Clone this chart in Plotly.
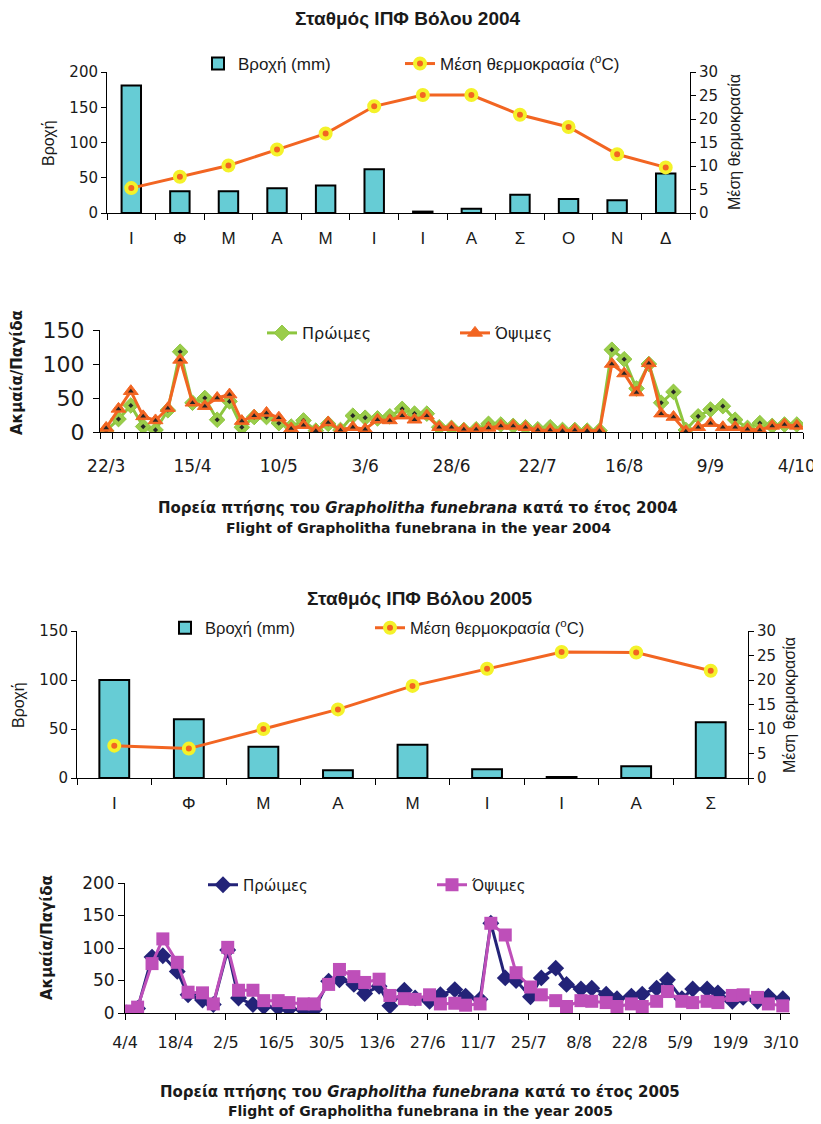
import plotly.graph_objects as go

W, H = 821, 1124
OFF = 8  # page body margin of the html page

# ---------------- DATA ----------------
months_2004 = ["Ι", "Φ", "Μ", "Α", "Μ", "Ι", "Ι", "Α", "Σ", "Ο", "Ν", "Δ"]
rain_2004 = [181, 31, 31, 35, 39, 62, 2, 6, 26, 20, 18, 56]
temp_2004 = [5.3, 7.7, 10.1, 13.5, 16.9, 22.7, 25.1, 25.1, 20.9, 18.3, 12.5, 9.7]

months_2005 = ["Ι", "Φ", "Μ", "Α", "Μ", "Ι", "Ι", "Α", "Σ"]
rain_2005 = [100, 60, 32, 8, 34, 9, 1, 12, 57]
temp_2005 = [6.6, 6.0, 10.0, 14.0, 18.8, 22.3, 25.7, 25.6, 21.9]

# 2004 flight: 57 samples (twice weekly, 22/3 - 4/10), category axis
flight2004_ticklabels = ["22/3", "15/4", "10/5", "3/6", "28/6", "22/7", "16/8", "9/9", "4/10"]
early_2004 = [2, 19, 39, 8, 3, 32, 118, 43, 50, 18, 45, 7, 22, 22, 13, 8, 17, 2, 12, 3,
              24, 21, 20, 23, 34, 27, 27, 7, 6, 3, 4, 12, 11, 9, 7, 4, 7, 3, 3, 2,
              2, 121, 107, 64, 100, 43, 59, 3, 23, 33, 38, 18, 6, 13, 9, 11, 11]
late_2004 = [6, 34, 60, 23, 17, 35, 106, 43, 38, 50, 55, 16, 24, 28, 21, 5, 10, 2, 14, 3,
             7, 4, 18, 17, 24, 18, 24, 7, 7, 4, 4, 6, 9, 9, 7, 3, 3, 2, 3, 2,
             2, 100, 86, 58, 101, 27, 22, 1, 7, 13, 7, 7, 4, 3, 9, 11, 9]

# 2005 flight: sampling dates
dates_2005 = [
    "2005-04-04", "2005-04-07", "2005-04-11", "2005-04-14", "2005-04-18", "2005-04-21",
    "2005-04-25", "2005-04-28", "2005-05-02", "2005-05-05", "2005-05-09", "2005-05-12",
    "2005-05-16", "2005-05-19", "2005-05-23", "2005-05-26", "2005-05-30", "2005-06-02",
    "2005-06-06", "2005-06-09", "2005-06-13", "2005-06-16", "2005-06-20", "2005-06-23",
    "2005-06-27", "2005-06-30", "2005-07-04", "2005-07-07", "2005-07-11", "2005-07-14",
    "2005-07-18", "2005-07-21", "2005-07-25", "2005-07-28", "2005-08-01", "2005-08-04",
    "2005-08-08", "2005-08-11", "2005-08-15", "2005-08-18", "2005-08-22", "2005-08-25",
    "2005-08-29", "2005-09-01", "2005-09-05", "2005-09-08", "2005-09-12", "2005-09-15",
    "2005-09-19", "2005-09-22", "2005-09-26", "2005-09-29", "2005-10-03"]
early_2005 = [0, 7, 86, 88, 64, 28, 20, 13, 97, 23, 13, 10, 8, 6, 5, 5, 49, 51, 44, 30,
              41, 11, 35, 23, 18, 28, 36, 26, 21, 138, 54, 50, 25, 54, 69, 44, 37, 38, 29, 22,
              26, 29, 38, 51, 22, 37, 37, 31, 18, 24, 18, 26, 22]
late_2005 = [3, 9, 76, 114, 78, 32, 31, 14, 101, 35, 35, 19, 19, 16, 14, 14, 44, 67, 56, 47,
             52, 27, 22, 21, 28, 14, 15, 12, 14, 138, 120, 62, 40, 28, 19, 10, 19, 18, 16, 10,
             14, 10, 18, 33, 18, 16, 18, 16, 27, 28, 24, 14, 11]
flight2005_tickvals = ["2005-04-04", "2005-04-18", "2005-05-02", "2005-05-16", "2005-05-30",
                       "2005-06-13", "2005-06-27", "2005-07-11", "2005-07-25", "2005-08-08",
                       "2005-08-22", "2005-09-05", "2005-09-19", "2005-10-03"]
flight2005_ticklabels = ["4/4", "18/4", "2/5", "16/5", "30/5", "13/6", "27/6", "11/7",
                         "25/7", "8/8", "22/8", "5/9", "19/9", "3/10"]

# ---------------- STYLE ----------------
BAR_C = "#66CCD5"
TEMP_C = "#F26522"
RING_C = "#F4F22A"
GREEN = "#8DC63F"
ORANGE = "#F26522"
NAVY = "#232378"
PINK = "#BE4FB9"
DOT = "#262626"
FC = "Liberation Sans, Arial, sans-serif"
FD = "DejaVu Sans, sans-serif"
TXT = "#1a1a1a"


def fx(px):
    return (px - OFF) / W


def fy(py):
    return 1 - (py - OFF) / H


fig = go.Figure()

# Chart 1: climate 2004
fig.add_trace(go.Bar(x=list(range(len(rain_2004))), y=rain_2004, xaxis="x", yaxis="y",
                     width=0.4, name="Βροχή (mm)", legend="legend",
                     marker=dict(color=BAR_C, line=dict(color="black", width=2))))
fig.add_trace(go.Scatter(x=list(range(len(temp_2004))), y=temp_2004, xaxis="x", yaxis="y2",
                         mode="lines+markers", name="Μέση θερμοκρασία (<sup>o</sup>C)", legend="legend5",
                         line=dict(color=TEMP_C, width=3),
                         marker=dict(symbol="circle", size=10, color=TEMP_C,
                                     line=dict(color=RING_C, width=4))))

# Chart 2: flight 2004
idx04 = list(range(len(early_2004)))
fig.add_trace(go.Scatter(x=idx04, y=early_2004, xaxis="x2", yaxis="y3", mode="lines+markers",
                         name="Πρώιμες", legend="legend2", line=dict(color=GREEN, width=3),
                         marker=dict(symbol="diamond", size=12, color="#9ACD4A",
                                     line=dict(color=GREEN, width=1))))
fig.add_trace(go.Scatter(x=idx04, y=early_2004, xaxis="x2", yaxis="y3", mode="markers",
                         showlegend=False, marker=dict(symbol="diamond", size=4, color=DOT)))
fig.add_trace(go.Scatter(x=idx04, y=late_2004, xaxis="x2", yaxis="y3", mode="lines+markers",
                         name="Όψιμες", legend="legend6", line=dict(color=ORANGE, width=3),
                         marker=dict(symbol="triangle-up", size=13, color=ORANGE,
                                     line=dict(color=ORANGE, width=1))))
fig.add_trace(go.Scatter(x=idx04, y=late_2004, xaxis="x2", yaxis="y3", mode="markers",
                         showlegend=False, marker=dict(symbol="triangle-up", size=5, color=DOT)))

# Chart 3: climate 2005
fig.add_trace(go.Bar(x=list(range(len(rain_2005))), y=rain_2005, xaxis="x3", yaxis="y4",
                     width=0.4, name="Βροχή (mm)", legend="legend3",
                     marker=dict(color=BAR_C, line=dict(color="black", width=2))))
fig.add_trace(go.Scatter(x=list(range(len(temp_2005))), y=temp_2005, xaxis="x3", yaxis="y5",
                         mode="lines+markers", name="Μέση θερμοκρασία (<sup>o</sup>C)", legend="legend7",
                         line=dict(color=TEMP_C, width=3),
                         marker=dict(symbol="circle", size=10, color=TEMP_C,
                                     line=dict(color=RING_C, width=4))))

# Chart 4: flight 2005 (points at mid-day)
xd05 = [d + " 12:00" for d in dates_2005]
fig.add_trace(go.Scatter(x=xd05, y=early_2005, xaxis="x4", yaxis="y6", mode="lines+markers",
                         name="Πρώιμες", legend="legend4", line=dict(color=NAVY, width=3),
                         marker=dict(symbol="diamond", size=13, color=NAVY)))
fig.add_trace(go.Scatter(x=xd05, y=late_2005, xaxis="x4", yaxis="y6", mode="lines+markers",
                         name="Όψιμες", legend="legend8", line=dict(color=PINK, width=3),
                         marker=dict(symbol="square", size=13, color=PINK)))

axis_common = dict(showline=True, linecolor="black", linewidth=1, showgrid=False,
                   zeroline=False, tickcolor="black", fixedrange=True, automargin=False)


def leg(px, py, size, family):
    return dict(x=fx(px), y=fy(py), xanchor="left", yanchor="middle", orientation="h",
                bgcolor="rgba(0,0,0,0)", font=dict(family=family, size=size, color=TXT))


layout = dict(
    template="none",
    width=W, height=H, margin=dict(l=0, r=0, t=0, b=0, pad=0, autoexpand=False),
    paper_bgcolor="white", plot_bgcolor="white", showlegend=True,
    font=dict(family=FC, color=TXT),
    # chart 1
    xaxis=dict(domain=[fx(107), fx(690)], anchor="y", range=[-0.5, 11.5],
               tickmode="array", tickvals=list(range(12)), ticktext=months_2004,
               ticks="outside", ticklen=0, ticklabelstandoff=10,
               minor=dict(tickmode="array", tickvals=[i - 0.5 for i in range(13)],
                          ticks="outside", ticklen=6, tickcolor="black"),
               tickfont=dict(family=FC, size=17, color=TXT), **axis_common),
    yaxis=dict(domain=[fy(213), fy(72)], anchor="x", range=[0, 200],
               tickvals=[0, 50, 100, 150, 200], ticks="outside", ticklen=5,
               tickfont=dict(family=FD, size=15, color=TXT), **axis_common),
    yaxis2=dict(overlaying="y", side="right", anchor="x", range=[0, 30],
                tickvals=[0, 5, 10, 15, 20, 25, 30], ticks="outside", ticklen=5,
                tickfont=dict(family=FD, size=15, color=TXT), **axis_common),
    # chart 2
    xaxis2=dict(domain=[fx(100), fx(803)], anchor="y3", range=[-0.5, 56.5],
                tickmode="array", tickvals=list(range(0, 57, 7)), ticktext=flight2004_ticklabels,
                ticks="outside", ticklen=0, ticklabelstandoff=19,
                minor=dict(tickmode="array", tickvals=[i - 0.5 for i in range(58)],
                           ticks="outside", ticklen=6, tickcolor="black"),
                tickfont=dict(family=FD, size=17, color=TXT), **axis_common),
    yaxis3=dict(domain=[fy(432), fy(330)], anchor="x2", range=[0, 150],
                tickvals=[0, 50, 100, 150], ticks="outside", ticklen=6, ticklabelstandoff=4,
                tickfont=dict(family=FD, size=22, color=TXT), **axis_common),
    # chart 3
    xaxis3=dict(domain=[fx(77), fx(748)], anchor="y4", range=[-0.5, 8.5],
                tickmode="array", tickvals=list(range(9)), ticktext=months_2005,
                ticks="outside", ticklen=0, ticklabelstandoff=10,
                minor=dict(tickmode="array", tickvals=[i - 0.5 for i in range(10)],
                           ticks="outside", ticklen=6, tickcolor="black"),
                tickfont=dict(family=FC, size=17, color=TXT), **axis_common),
    yaxis4=dict(domain=[fy(778), fy(631)], anchor="x3", range=[0, 150],
                tickvals=[0, 50, 100, 150], ticks="outside", ticklen=5,
                tickfont=dict(family=FD, size=15, color=TXT), **axis_common),
    yaxis5=dict(overlaying="y4", side="right", anchor="x3", range=[0, 30],
                tickvals=[0, 5, 10, 15, 20, 25, 30], ticks="outside", ticklen=5,
                tickfont=dict(family=FD, size=15, color=TXT), **axis_common),
    # chart 4
    xaxis4=dict(domain=[fx(125), fx(790)], anchor="y6", type="date",
                range=["2005-04-04 00:00", "2005-10-05 12:00"],
                tickmode="array", tickvals=flight2005_tickvals, ticktext=flight2005_ticklabels,
                ticks="outside", ticklen=6, ticklabelstandoff=9,
                tickfont=dict(family=FD, size=16, color=TXT), **axis_common),
    yaxis6=dict(domain=[fy(1013), fy(883)], anchor="x4", range=[0, 200],
                tickvals=[0, 50, 100, 150, 200], ticks="outside", ticklen=6,
                tickfont=dict(family=FD, size=17, color=TXT), **axis_common),
    legend=leg(198, 64, 17, FC),
    legend5=leg(400, 64, 17, FC),
    legend2=leg(262, 333, 16, FD),
    legend6=leg(455, 333, 16, FD),
    legend3=leg(165, 628, 16.5, FC),
    legend7=leg(370, 628, 16.5, FC),
    legend4=leg(203, 885, 15, FD),
    legend8=leg(432, 885, 15, FD),
)
fig.update_layout(**layout)


def ann(text, px, py, size, family=FC, angle=0, bold=False):
    t = "<b>" + text + "</b>" if bold else text
    fig.add_annotation(text=t, x=fx(px), y=fy(py), xref="paper", yref="paper",
                       xanchor="center", yanchor="middle", showarrow=False,
                       textangle=angle, font=dict(family=family, size=size, color=TXT))


ann("Σταθμός ΙΠΦ Βόλου 2004", 408, 18, 19, bold=True)
ann("Βροχή", 48, 143, 16, angle=-90)
ann("Μέση θερμοκρασία", 734, 142, 16, angle=-90)
ann("Ακμαία/Παγίδα", 17, 373, 15, family=FD, angle=-90, bold=True)
ann("Πορεία πτήσης του <i>Grapholitha funebrana</i> κατά το έτος 2004", 418, 508, 15, family=FD, bold=True)
ann("Flight of Grapholitha funebrana in the year 2004", 418, 528, 14, family=FD, bold=True)

ann("Σταθμός ΙΠΦ Βόλου 2005", 420, 598, 19, bold=True)
ann("Βροχή", 18, 705, 16, angle=-90)
ann("Μέση θερμοκρασία", 789, 705, 16, angle=-90)
ann("Ακμαία/Παγίδα", 47, 938, 15, family=FD, angle=-90, bold=True)
ann("Πορεία πτήσης του <i>Grapholitha funebrana</i> κατά το έτος 2005", 420, 1092, 15, family=FD, bold=True)
ann("Flight of Grapholitha funebrana in the year 2005", 420, 1111, 14, family=FD, bold=True)

fig.write_html("out.html")
